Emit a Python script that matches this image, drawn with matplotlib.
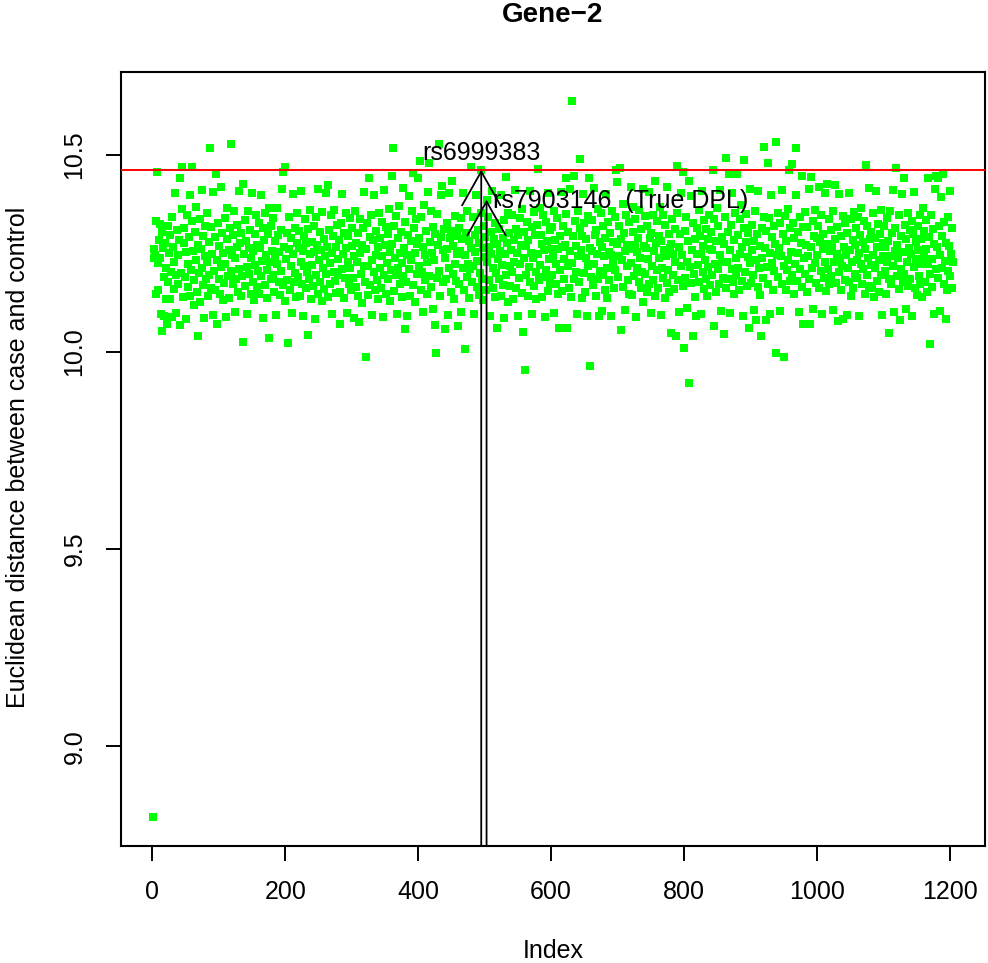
import numpy as np
import matplotlib.pyplot as plt

plt.rcParams['font.family'] = ['Liberation Sans', 'DejaVu Sans']

# distance between case and control, in thousandths above 10 (one row = 20 SNPs)
rows = [
    [-1180, 238, 262, 245, 147, 331, 457, 226, 158, 284, 325, 237, 96, 304, 52, 263, 92, 189, 275, 135],
    [214, 70, 318, 176, 251, 133, 296, 203, 88, 342, 267, 159, 228, 402, 194, 98, 309, 246, 173, 285],
    [440, 67, 201, 362, 470, 138, 277, 315, 189, 253, 84, 348, 224, 164, 292, 398, 143, 208, 331, 470],
    [256, 183, 119, 305, 367, 232, 151, 41, 271, 199, 338, 127, 260, 214, 411, 170, 295, 86, 243, 318],
    [185, 352, 229, 141, 279, 196, 518, 317, 163, 248, 405, 94, 205, 291, 157, 452, 234, 70, 327, 186],
    [268, 147, 417, 216, 302, 131, 251, 175, 339, 222, 88, 287, 364, 193, 258, 136, 315, 204, 528, 246],
    [173, 296, 358, 101, 238, 184, 321, 265, 152, 409, 211, 276, 143, 302, 193, 426, 26, 247, 334, 168],
    [282, 215, 97, 356, 264, 197, 310, 146, 239, 404, 177, 255, 131, 298, 221, 346, 165, 272, 205, 328],
    [148, 263, 398, 192, 231, 315, 87, 284, 353, 170, 245, 208, 137, 298, 364, 36, 227, 184, 319, 256],
    [196, 339, 153, 280, 241, 93, 365, 222, 297, 178, 253, 144, 310, 206, 413, 169, 457, 266, 128, 470],
    [235, 301, 183, 23, 262, 343, 157, 219, 288, 99, 401, 248, 176, 313, 201, 139, 275, 352, 190, 264],
    [307, 142, 229, 408, 171, 256, 91, 294, 218, 337, 163, 275, 203, 44, 312, 185, 248, 361, 134, 279],
    [221, 166, 318, 253, 83, 342, 196, 271, 148, 412, 232, 177, 305, 259, 128, 354, 214, 286, 160, 243],
    [403, 198, 265, 424, 139, 308, 225, 172, 346, 251, 95, 293, 202, 361, 180, 267, 149, 322, 236, 195],
    [284, 152, 70, 328, 209, 400, 247, 136, 301, 188, 264, 351, 98, 227, 295, 173, 339, 212, 156, 269],
    [315, 187, 243, 86, 358, 276, 164, 229, 302, 141, 75, 251, 336, 197, 272, 125, 313, 218, 406, 176],
    [-14, 260, 328, 145, 217, 442, 291, 169, 348, 234, 94, 285, 202, 399, 158, 307, 246, 183, 267, 134],
    [352, 213, 289, 161, 330, 242, 89, 410, 196, 271, 147, 316, 225, 184, 299, 362, 128, 253, 208, 447],
    [274, 518, 155, 318, 237, 196, 345, 96, 288, 214, 369, 172, 251, 303, 138, 226, 415, 192, 263, 59],
    [330, 178, 245, 91, 297, 395, 209, 141, 282, 232, 356, 454, 169, 313, 251, 127, 338, 197, 274, 442],
    [219, 288, 485, 157, 341, 203, 265, 102, 372, 246, 182, 307, 148, 228, 405, 480, 193, 279, 356, 164],
    [251, 316, 108, 234, 298, 67, -4, 187, 349, 270, 528, 206, 143, 397, 291, 420, 176, 258, 312, 59],
    [238, 185, 327, 261, 93, 402, 212, 289, 151, 306, 434, 197, 268, 133, 345, 224, 180, 293, 247, 66],
    [314, 172, 256, 339, 100, 287, 213, 404, 158, 8, 246, 302, 191, 357, 224, 137, 281, 209, 470, 263],
    [178, 342, 217, 95, 296, 253, 398, 164, 231, 308, 145, 275, 199, 353, 462, 186, 264, 132, 319, 240],
    [292, 157, 386, 228, 341, 183, 266, 92, 305, 247, 407, 162, 214, 287, 139, 328, 201, 60, 274, 236],
    [185, 312, 257, 143, 399, 221, 289, 170, 334, 86, 249, 444, 196, 276, 353, 127, 301, 218, 168, 259],
    [347, 203, 135, 284, 229, 411, 162, 311, 252, 90, 297, 188, 340, 224, 271, 149, 363, 50, 237, 305],
    [-47, 268, 194, 329, 142, 283, 215, 409, 176, 251, 97, 316, 239, 355, 167, 296, 203, 134, 322, 464],
    [248, 183, 365, 221, 297, 138, 274, 346, 191, 259, 88, 330, 207, 282, 154, 403, 236, 175, 309, 262],
    [317, 196, 243, 358, 99, 285, 224, 172, 339, 261, 147, 60, 293, 208, 405, 154, 267, 318, 186, 235],
    [271, 349, 442, 60, 218, 304, 163, 257, 413, 139, 226, 637, 295, 184, 447, 332, 203, 268, 95, 357],
    [242, 176, 313, 490, 258, 137, 294, 400, 201, 327, 152, 239, 286, 90, 345, 218, 440, 263, -35, 191],
    [334, 257, 169, 416, 223, 296, 141, 310, 247, 185, 363, 92, 278, 204, 351, 104, 266, 319, 195, 243],
    [156, 288, 401, 213, 137, 329, 254, 182, 301, 245, 92, 357, 226, 279, 163, 342, 208, 462, 274, 430],
    [191, 318, 243, 467, 286, 56, 233, 375, 164, 301, 257, 106, 346, 218, 272, 183, 329, 148, 261, 418],
    [226, 145, 303, 368, 192, 271, 337, 89, 254, 213, 289, 176, 359, 238, 161, 312, 203, 412, 127, 268],
    [345, 197, 263, 152, 318, 236, 406, 171, 289, 98, 302, 219, 348, 183, 257, 141, 434, 276, 208, 331],
    [162, 294, 238, 367, 94, 281, 213, 346, 187, 259, 136, 323, 242, 174, 417, 208, 299, 153, 264, 47],
    [273, 336, 194, 248, 159, 312, 227, 40, 351, 472, 182, 265, 102, 298, 219, 404, 245, 168, 457, 11],
    [306, 187, 342, 229, 112, 281, 434, -80, 215, 396, 174, 258, 40, 327, 197, 286, 138, 90, 249, 314],
    [221, 359, 176, 293, 247, 95, 408, 203, 268, 159, 335, 232, 184, 312, 141, 287, 216, 346, 169, 262],
    [303, 195, 258, 462, 337, 65, 224, 281, 152, 366, 209, 319, 173, 246, 410, 103, 292, 228, 188, 45],
    [274, 341, 163, 492, 229, 305, 186, 450, 258, 99, 322, 211, 402, 177, 284, 147, 353, 238, 195, 450],
    [212, 296, 158, 337, 248, 373, 181, 267, 91, 314, 487, 203, 278, 349, 167, 241, 302, 60, 226, 414],
    [174, 259, 323, 196, 281, 107, 357, 80, 234, 298, 165, 409, 213, 269, 145, 41, 315, 238, 187, 342],
    [520, 263, 80, 307, 216, 480, 172, 339, 251, 96, 399, 225, 291, 157, 318, 204, 273, 533, -2, 246],
    [352, 189, 264, 104, 327, 243, 411, 171, 298, -12, 219, 345, 156, 281, 207, 362, 234, 460, 179, 315],
    [253, 477, 196, 328, 147, 289, 224, 518, 397, 181, 305, 252, 101, 343, 209, 277, 447, 164, 316, 70],
    [238, 354, 197, 271, 153, 316, 242, 412, 184, 70, 267, 444, 212, 333, 110, 295, 226, 361, 175, 288],
    [245, 318, 417, 163, 279, 206, 347, 97, 262, 298, 187, 403, 229, 154, 426, 274, 211, 336, 172, 257],
    [309, 193, 265, 105, 357, 228, 286, 422, 174, 249, 316, 78, 203, 400, 238, 158, 294, 217, 345, 84],
    [266, 183, 327, 245, 94, 301, 214, 402, 176, 259, 142, 336, 227, 283, 161, 354, 198, 272, 315, 234],
    [187, 343, 251, 90, 296, 224, 365, 172, 278, 209, 331, 147, 262, 475, 195, 318, 239, 415, 166, 287],
    [221, 305, 163, 352, 246, 138, 289, 213, 407, 181, 267, 325, 152, 234, 298, 196, 361, 93, 276, 243],
    [318, 204, 265, 147, 339, 229, 281, 49, 186, 357, 243, 171, 302, 218, 410, 100, 257, 314, 467, 192],
    [272, 238, 159, 346, 80, 293, 211, 401, 178, 254, 440, 197, 323, 108, 286, 229, 352, 168, 263, 309],
    [184, 247, 331, 92, 298, 216, 405, 163, 279, 235, 144, 318, 258, 192, 347, 171, 286, 223, 139, 364],
    [241, 307, 178, 262, 335, 153, 224, 440, 292, 197, 19, 348, 236, 165, 311, 274, 96, 413, 209, 445],
    [265, 440, 187, 319, 246, 103, 394, 213, 294, 450, 172, 329, 231, 83, 276, 158, 341, 206, 268, 193],
    [408, 247, 162, 315, 228],
]
for r in rows[:-1]:
    assert len(r) == 20, r

dist = 10 + np.concatenate(rows) / 1000.0
idx = np.arange(1, len(dist) + 1)

threshold = 10.462
snp_labels = ['rs6999383', 'rs7903146  (True DPL)']
snp_idx = [495, 503]

fig = plt.figure(figsize=(9.88, 9.63), dpi=100)
ax = fig.add_axes([121/988, 1 - 846/963, 864/988, 774/963])

ax.scatter(idx, dist, marker='s', s=26, c='#00ff00', linewidths=0, zorder=2)
ax.axhline(threshold, color='red', lw=1.4, zorder=3)

# R style 4% padding
xr = idx.max() - idx.min()
ax.set_xlim(idx.min() - 0.04*xr, idx.max() + 0.04*xr)
yr = dist.max() - dist.min()
ylo = dist.min() - 0.04*yr
ax.set_ylim(ylo, dist.max() + 0.04*yr)

for i, (lab, k) in enumerate(zip(snp_labels, snp_idx)):
    yv = dist[k - 1]
    ax.annotate('', xy=(k, yv), xytext=(k, ylo),
                arrowprops=dict(arrowstyle='->,head_length=1.22,head_width=0.69',
                                lw=1.3, color='black', shrinkA=0, shrinkB=0,
                                mutation_scale=20), zorder=4)
    if i == 0:
        ax.annotate(lab, xy=(k, yv), xytext=(0, 7), textcoords='offset points',
                    ha='center', va='baseline', fontsize=18, zorder=5)
    else:
        ax.annotate(lab, xy=(k, yv), xytext=(5, -1), textcoords='offset points',
                    ha='left', va='center', fontsize=18, zorder=5)

ax.set_xticks([0, 200, 400, 600, 800, 1000, 1200])
ax.set_yticks([9.0, 9.5, 10.0, 10.5])
ax.tick_params(length=10.8, width=1.4, labelsize=18, pad=14)
for t in ax.get_yticklabels():
    t.set_rotation(90)
    t.set_va('center')
for s in ax.spines.values():
    s.set_linewidth(1.5)

fig.text(553/988, 1 - 15/963, 'Gene\u22122', ha='center', va='center',
         fontsize=20, fontweight='bold')
fig.text(553/988, 1 - 951/963, 'Index', ha='center', va='center', fontsize=18)
fig.text(18/988, 1 - 457/963, 'Euclidean distance between case and control',
         rotation=90, ha='center', va='center', fontsize=18)

fig.savefig('out.png', dpi=100)
